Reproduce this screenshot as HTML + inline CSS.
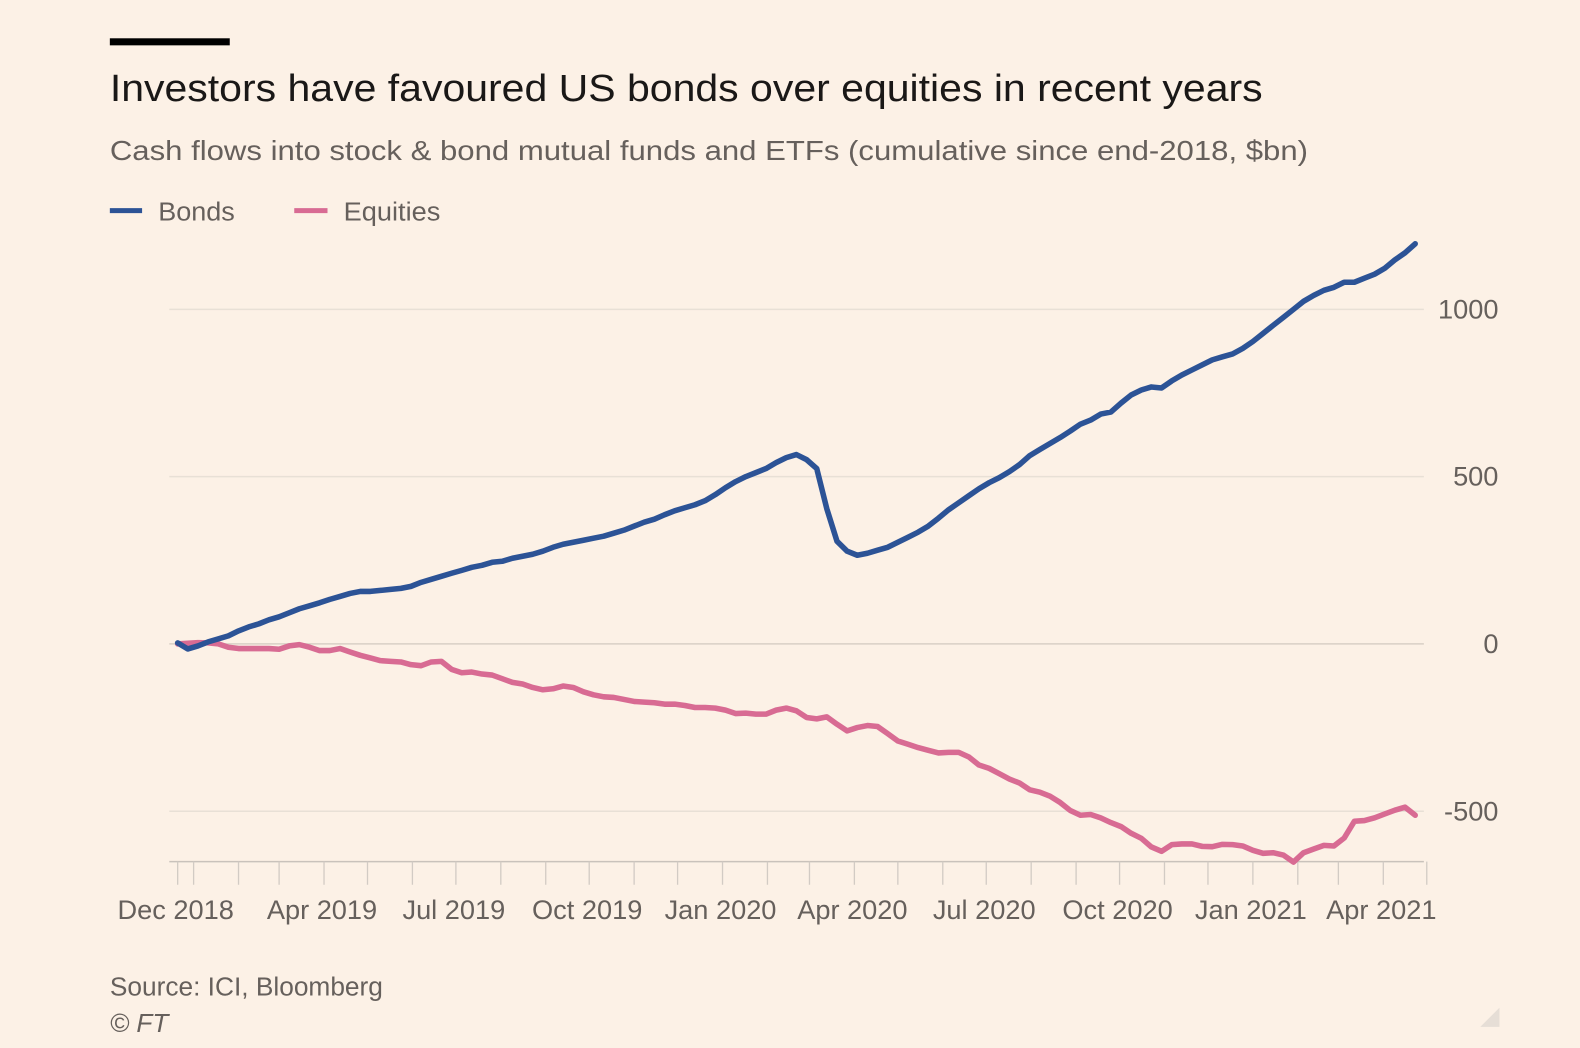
<!DOCTYPE html>
<html><head><meta charset="utf-8"><style>
html,body{margin:0;padding:0;background:#fcf1e6;}
svg{display:block;font-family:"Liberation Sans",sans-serif;}
</style></head><body>
<svg id="chart" width="1580" height="1048" viewBox="0 0 1580 1048" xmlns="http://www.w3.org/2000/svg">
<rect width="1580" height="1048" fill="#fcf1e6"/>
<g transform="scale(1.0077)">
<rect x="109" y="38" width="119" height="7" fill="#000"/>
<text x="109" y="100" font-size="38" fill="#1a1817" textLength="1144" lengthAdjust="spacingAndGlyphs">Investors have favoured US bonds over equities in recent years</text>
<text x="109" y="159" font-size="28" fill="#66605c" textLength="1189" lengthAdjust="spacingAndGlyphs">Cash flows into stock &amp; bond mutual funds and ETFs (cumulative since end-2018, $bn)</text>
<g>
<line x1="109" y1="209" x2="141" y2="209" stroke="#2c5396" stroke-width="5"/>
<text x="157" y="219" font-size="26" fill="#66605c" textLength="76" lengthAdjust="spacingAndGlyphs">Bonds</text>
<line x1="292" y1="209" x2="325" y2="209" stroke="#d86b93" stroke-width="5"/>
<text x="341" y="219" font-size="26" fill="#66605c" textLength="96" lengthAdjust="spacingAndGlyphs">Equities</text>
</g>
<g id="grid"></g><g id="xaxis"></g><g id="series"></g>
<text x="109" y="988" font-size="26" fill="#66605c" textLength="271" lengthAdjust="spacingAndGlyphs">Source: ICI, Bloomberg</text>
<text x="109" y="1024" font-size="26" font-style="italic" fill="#66605c">© FT</text>
<polygon points="1488,1000 1488,1019 1469,1019" fill="#e6ded6"/>
</g>
</svg>
<script>
const startDate = "2018-12-21";
const yTicks = [1000, 500, 0, -500];
const xTickLabels = ["Dec 2018","Apr 2019","Jul 2019","Oct 2019","Jan 2020","Apr 2020","Jul 2020","Oct 2020","Jan 2021","Apr 2021"];
const xLabelDates = ["2018-12-21","2019-04-01","2019-07-01","2019-10-01","2020-01-01","2020-04-01","2020-07-01","2020-10-01","2021-01-01","2021-04-01"];
const bonds = [3,-15,-6,6,15,24,39,51,60,72,81,93,105,114,123,133,142,151,157,157,160,163,166,172,184,193,202,211,220,229,235,244,247,256,262,268,277,289,298,304,310,316,322,331,340,352,364,373,386,398,407,416,428,446,467,485,500,512,524,542,557,566,551,524,404,307,277,265,271,280,289,304,319,334,352,376,401,422,443,464,482,497,515,536,563,581,599,617,636,657,669,687,693,720,744,759,768,765,786,804,819,834,849,858,867,883,904,928,952,976,1000,1024,1042,1057,1066,1081,1081,1093,1105,1123,1148,1169,1196];
const equities = [0,2,4,3,0,-10,-14,-14,-14,-14,-16,-6,-2,-10,-20,-20,-14,-24,-34,-42,-50,-52,-54,-62,-65,-54,-52,-76,-86,-84,-90,-93,-104,-115,-120,-130,-137,-134,-126,-130,-143,-152,-158,-160,-166,-172,-174,-176,-180,-180,-184,-190,-190,-192,-198,-208,-207,-210,-210,-198,-192,-200,-220,-224,-218,-240,-260,-250,-244,-247,-268,-290,-300,-310,-318,-326,-324,-324,-338,-362,-372,-388,-404,-416,-436,-443,-455,-474,-498,-512,-510,-520,-534,-546,-566,-581,-607,-620,-600,-598,-598,-605,-606,-599,-600,-604,-617,-626,-624,-631,-652,-624,-613,-602,-604,-580,-530,-528,-520,-508,-497,-488,-512];

const NS="http://www.w3.org/2000/svg";
const DAY=86400000, ref=Date.UTC(2020,0,1);
function parse(s){const p=s.split("-");return Date.UTC(+p[0],+p[1]-1,+p[2]);}
function xScale(t){return 717+((t-ref)/DAY)*1.438;}
function yScale(v){return 639-v*0.332;}
function mk(tag,attrs,parent){const e=document.createElementNS(NS,tag);for(const k in attrs)e.setAttribute(k,attrs[k]);parent.appendChild(e);return e;}
const grid=document.getElementById("grid"),xa=document.getElementById("xaxis"),ser=document.getElementById("series");
yTicks.forEach(v=>{
  const l=mk("line",{x1:168,x2:1413,y1:yScale(v),y2:yScale(v),stroke:v===0?"#d9d0c6":"#e8e0d6","stroke-width":1.5},grid);
  
  
  const t=mk("text",{x:1487,y:yScale(v)+9,"font-size":27,fill:"#66605c","text-anchor":"end"},grid);
  t.textContent=String(v);
  
  
});
const axisY=855;
const base=mk("line",{x1:168,x2:1413,y1:axisY,y2:axisY,stroke:"#c9c2bb","stroke-width":1.5},xa);


const tickDates=[parse(startDate)];
for(let y=2019;y<=2021;y++)for(let m=0;m<12;m++){const d=Date.UTC(y,m,1);if(d<=Date.UTC(2021,4,1))tickDates.push(d);}
tickDates.forEach((d,i)=>{
  const x=xScale(d);
  const tk=mk("line",{x1:x,x2:x,y1:axisY,y2:axisY+23,stroke:"#d2cbc4","stroke-width":1.3},xa);
  
  
});
xTickLabels.forEach((lab,i)=>{
  const t=mk("text",{x:xScale(parse(xLabelDates[i]))-2,y:912,"font-size":27,fill:"#66605c","text-anchor":"middle"},xa);
  t.textContent=lab;
  
  
});
function line(vals,color,name){
  const s=parse(startDate);
  const pts=vals.map((v,i)=>xScale(s+i*7*DAY).toFixed(1)+","+yScale(v).toFixed(1)).join(" ");
  const p=mk("polyline",{points:pts,fill:"none",stroke:color,"stroke-width":5.5,"stroke-linejoin":"round","stroke-linecap":"round"},ser);
  
  
}
line(equities,"#d86b93","equities-line");
line(bonds,"#2c5396","bonds-line");
</script>
</body></html>
